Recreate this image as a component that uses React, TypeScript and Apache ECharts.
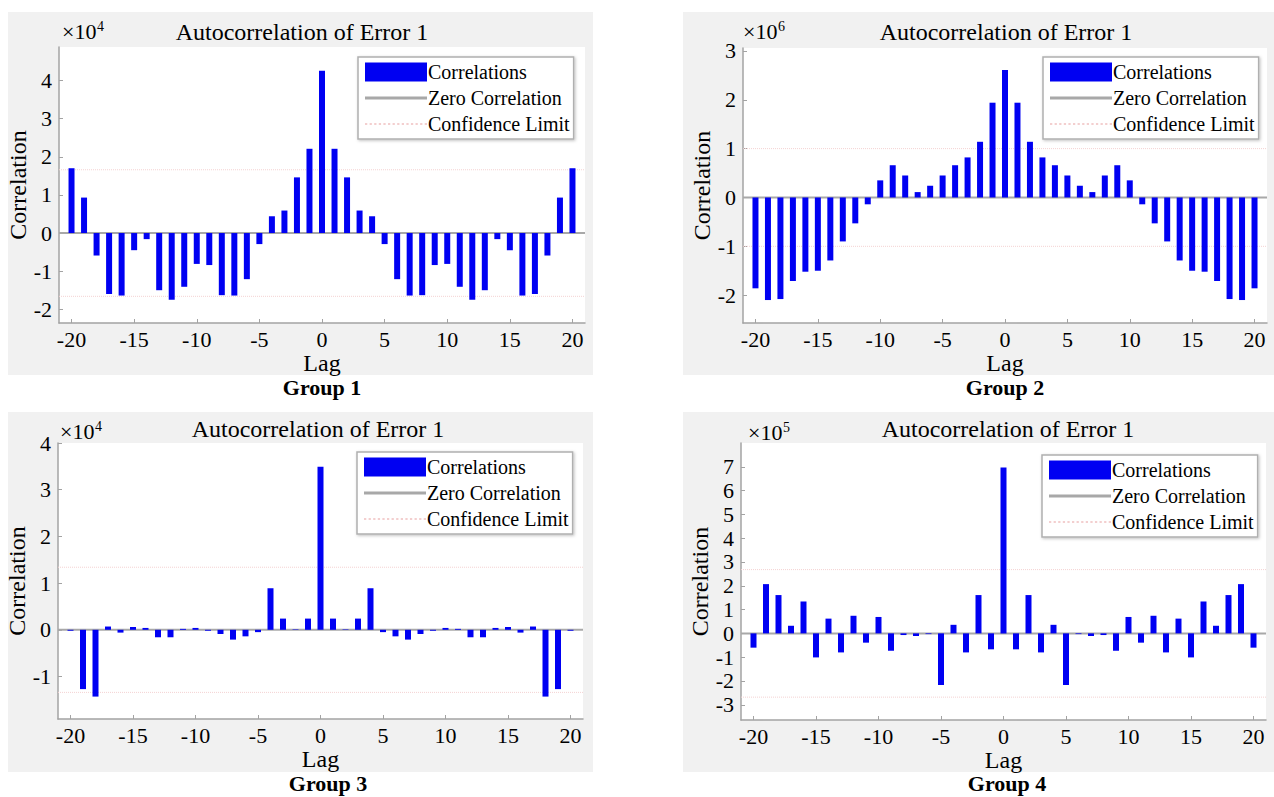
import React, { useEffect, useRef } from "react";
import * as echarts from "echarts";

const lags = [-20, -19, -18, -17, -16, -15, -14, -13, -12, -11, -10, -9, -8, -7, -6, -5, -4, -3, -2, -1, 0, 1, 2, 3, 4, 5, 6, 7, 8, 9, 10, 11, 12, 13, 14, 15, 16, 17, 18, 19, 20];

// Group 1 (x 10^4)
const group1 = [1.70, 0.93, -0.59, -1.60, -1.64, -0.45, -0.16, -1.50, -1.75, -1.41, -0.81, -0.84, -1.63, -1.64, -1.21, -0.29, 0.44, 0.59, 1.46, 2.21, 4.26, 2.21, 1.46, 0.59, 0.44, -0.29, -1.21, -1.64, -1.63, -0.84, -0.81, -1.41, -1.75, -1.50, -0.16, -0.45, -1.64, -1.60, -0.59, 0.93, 1.70];
// Group 2 (x 10^6)
const group2 = [-1.86, -2.10, -2.08, -1.71, -1.52, -1.50, -1.29, -0.90, -0.53, -0.14, 0.35, 0.66, 0.45, 0.11, 0.24, 0.45, 0.66, 0.82, 1.14, 1.94, 2.61, 1.94, 1.14, 0.82, 0.66, 0.45, 0.24, 0.11, 0.45, 0.66, 0.35, -0.14, -0.53, -0.90, -1.29, -1.50, -1.52, -1.71, -2.08, -2.10, -1.86];
// Group 3 (x 10^4)
const group3 = [-0.02, -1.27, -1.43, 0.07, -0.06, 0.06, 0.04, -0.16, -0.16, 0.02, 0.04, -0.02, -0.09, -0.21, -0.14, -0.05, 0.89, 0.24, 0.01, 0.24, 3.49, 0.24, 0.01, 0.24, 0.89, -0.05, -0.14, -0.21, -0.09, -0.02, 0.04, 0.02, -0.16, -0.16, 0.04, 0.06, -0.06, 0.07, -1.43, -1.27, -0.02];
// Group 4 (x 10^5)
const group4 = [-0.60, 2.07, 1.61, 0.32, 1.34, -1.01, 0.62, -0.80, 0.74, -0.39, 0.69, -0.73, -0.07, -0.11, -0.03, -2.17, 0.36, -0.80, 1.61, -0.67, 6.97, -0.67, 1.61, -0.80, 0.36, -2.17, -0.03, -0.11, -0.07, -0.73, 0.69, -0.39, 0.74, -0.80, 0.62, -1.01, 1.34, 0.32, 1.61, 2.07, -0.60];

const confidence = [1.66, 1.0, 1.34, 2.68];
const exponents = ["4", "6", "4", "5"];
const captions = ["Group 1", "Group 2", "Group 3", "Group 4"];
const xTicks = [-20, -15, -10, -5, 0, 5, 10, 15, 20];
const yTicks1 = [-2, -1, 0, 1, 2, 3, 4];
const yTicks2 = [-2, -1, 0, 1, 2, 3];
const yTicks3 = [-1, 0, 1, 2, 3, 4];
const yTicks4 = [-3, -2, -1, 0, 1, 2, 3, 4, 5, 6, 7];
const legendNames = ["Correlations", "Zero Correlation", "Confidence Limit"];
const titleText = "Autocorrelation of Error 1";

const FONT = "Liberation Serif";

const panels = [
  { values: group1, yTicks: yTicks1, yMin: -2.36, yMax: 4.88, grid: { left: 59, top: 47, width: 526, height: 276 }, bg: { x: 8, y: 12, w: 585, h: 363 }, title: { x: 302, y: 32 }, exp: { x: 62, y: 31 }, caption: { x: 322, y: 387 }, legend: { left: 358, top: 57 } },
  { values: group2, yTicks: yTicks2, yMin: -2.57, yMax: 3.06, grid: { left: 743, top: 48, width: 524, height: 275 }, bg: { x: 683, y: 12, w: 591, h: 363 }, title: { x: 1006, y: 32 }, exp: { x: 743, y: 31 }, caption: { x: 1005, y: 387 }, legend: { left: 1043, top: 57 } },
  { values: group3, yTicks: yTicks3, yMin: -1.91, yMax: 4.0, grid: { left: 58, top: 443, width: 525, height: 276 }, bg: { x: 8, y: 412, w: 585, h: 360 }, title: { x: 318, y: 429 }, exp: { x: 60, y: 431 }, caption: { x: 328, y: 783 }, legend: { left: 357, top: 452 } },
  { values: group4, yTicks: yTicks4, yMin: -3.64, yMax: 8.0, grid: { left: 741, top: 443, width: 525, height: 277 }, bg: { x: 683, y: 412, w: 591, h: 360 }, title: { x: 1008, y: 429 }, exp: { x: 748, y: 432 }, caption: { x: 1007, y: 783 }, legend: { left: 1042, top: 455 } },
];

function dottedPath(): string {
  let d = "";
  for (let x = 0; x < 54; x += 4) d += `M${x} 0H${x + 2}V1.4H${x}Z`;
  return "path://" + d;
}

export default function App() {
  const ref = useRef<HTMLDivElement>(null);
  useEffect(() => {
    if (!ref.current) return;
    const chart = echarts.init(ref.current, null, { renderer: "svg" });
    const axisColor = "#a3a3a3";
    const barColor = "#0000f2";
    const zeroColor = "#a8a8a8";
    const confColor = "#f4d2d2";

    const grid = panels.map((p) => ({
      left: p.grid.left, top: p.grid.top, width: p.grid.width, height: p.grid.height,
      show: true, backgroundColor: "#ffffff", borderWidth: 0,
    }));
    const xAxis = panels.map((p, i) => ({
      gridIndex: i, type: "value", min: -21, max: 21,
      axisLine: { show: true, onZero: false, lineStyle: { color: axisColor, width: 1.5 } },
      axisTick: { show: true, inside: true, length: 4, customValues: xTicks, lineStyle: { color: axisColor } },
      axisLabel: { customValues: xTicks, color: "#000", fontSize: 22, fontFamily: FONT, margin: 5 },
      splitLine: { show: false },
      name: "Lag", nameLocation: "middle", nameGap: 19,
      nameTextStyle: { color: "#000", fontSize: 24, fontFamily: FONT },
    }));
    const yAxis = panels.map((p, i) => ({
      gridIndex: i, type: "value", min: p.yMin, max: p.yMax,
      axisLine: { show: true, onZero: false, lineStyle: { color: axisColor, width: 1.5 } },
      axisTick: { show: true, inside: true, length: 4, customValues: p.yTicks, lineStyle: { color: axisColor } },
      axisLabel: { customValues: p.yTicks, color: "#000", fontSize: 22, fontFamily: FONT, margin: 7 },
      splitLine: { show: false },
      name: "Correlation", nameLocation: "middle", nameGap: 22,
      nameTextStyle: { color: "#000", fontSize: 24, fontFamily: FONT },
    }));

    const series: any[] = [];
    panels.forEach((p, i) => {
      const c = confidence[i];
      series.push({
        type: "line", name: "Zero Correlation", xAxisIndex: i, yAxisIndex: i,
        data: [[-21, 0], [21, 0]], symbol: "none", silent: true, z: 2,
        lineStyle: { color: zeroColor, width: 2 }, itemStyle: { color: zeroColor },
      });
      series.push({
        type: "line", name: "Confidence Limit", xAxisIndex: i, yAxisIndex: i,
        data: [[-21, c], [21, c]], symbol: "none", silent: true, z: 1,
        lineStyle: { color: confColor, width: 1, type: "dotted" }, itemStyle: { color: confColor },
      });
      series.push({
        type: "line", name: "Confidence Limit", xAxisIndex: i, yAxisIndex: i,
        data: [[-21, -c], [21, -c]], symbol: "none", silent: true, z: 1,
        lineStyle: { color: confColor, width: 1, type: "dotted" }, itemStyle: { color: confColor },
      });
      series.push({
        type: "bar", name: "Correlations", xAxisIndex: i, yAxisIndex: i,
        data: lags.map((l, k) => [l, p.values[k]]), barWidth: 6, z: 3,
        itemStyle: { color: barColor },
      });
    });

    const legend = panels.map((p) => ({
      orient: "vertical", left: p.legend.left, top: p.legend.top,
      itemWidth: 62, itemHeight: 19, itemGap: 6, padding: [5, 4, 5, 7],
      backgroundColor: "#ffffff", borderColor: "#b0b0b0", borderWidth: 1.5,
      shadowBlur: 3, shadowColor: "rgba(0,0,0,0.25)", shadowOffsetX: 1, shadowOffsetY: 1,
      selectedMode: false,
      textStyle: { fontFamily: FONT, fontSize: 20, color: "#000", padding: [0, 0, 0, -4] },
      data: [
        { name: legendNames[0], icon: "rect", itemStyle: { color: barColor, borderWidth: 0 } },
        { name: legendNames[1], icon: "path://M0 0H62V3H0Z", itemStyle: { color: zeroColor, borderWidth: 0 } },
        { name: legendNames[2], icon: dottedPath(), itemStyle: { color: "#f0c0c0", borderWidth: 0 } },
      ],
    }));

    const graphic: any[] = [];
    panels.forEach((p, i) => {
      graphic.push({ type: "rect", z: -100, shape: { x: p.bg.x, y: p.bg.y, width: p.bg.w, height: p.bg.h }, style: { fill: "#f1f1f1" }, silent: true });
      graphic.push({ type: "text", x: p.title.x, y: p.title.y, style: { text: titleText, font: `24px ${FONT}`, fill: "#000", textAlign: "center", textVerticalAlign: "middle" } });
      graphic.push({ type: "text", x: p.exp.x, y: p.exp.y, style: { text: "×10", font: `22px ${FONT}`, fill: "#000", textAlign: "left", textVerticalAlign: "middle" } });
      graphic.push({ type: "text", x: p.exp.x + 35, y: p.exp.y - 5, style: { text: exponents[i], font: `14px ${FONT}`, fill: "#000", textAlign: "left", textVerticalAlign: "middle" } });
      graphic.push({ type: "text", x: p.caption.x, y: p.caption.y, style: { text: captions[i], font: `bold 22px ${FONT}`, fill: "#000", textAlign: "center", textVerticalAlign: "middle" } });
    });

    chart.setOption({
      animation: false,
      backgroundColor: "#ffffff",
      grid, xAxis, yAxis, series, legend, graphic,
    });
    return () => chart.dispose();
  }, []);
  return <div ref={ref} style={{ position: "absolute", left: 0, top: 0, width: 1274, height: 797 }} />;
}
